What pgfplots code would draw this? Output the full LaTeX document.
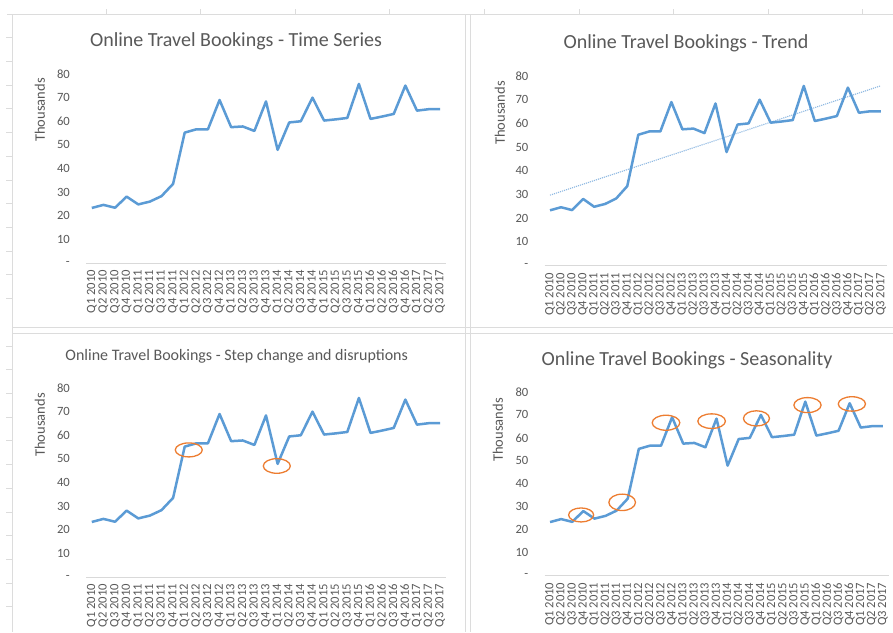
\documentclass[border=0pt]{standalone}
\usepackage{pgfplots}
\usepackage{pgfplotstable}
\pgfplotsset{compat=1.18}
\usepackage{fontspec}
\setmainfont{Carlito}
\definecolor{xblue}{HTML}{5B9BD5}
\definecolor{xtrend}{HTML}{8DB8E2}
\definecolor{xorange}{HTML}{ED7D31}
\definecolor{xgray}{HTML}{595959}
\definecolor{xline}{HTML}{D9D9D9}
\definecolor{xgrid}{HTML}{DCDCDC}

\pgfplotstableread{
idx val
0 23.3
1 24.6
2 23.4
3 28.1
4 24.8
5 26.0
6 28.3
7 33.5
8 55.2
9 56.6
10 56.6
11 69.0
12 57.5
13 57.8
14 55.9
15 68.4
16 47.9
17 59.5
18 60.0
19 70.0
20 60.3
21 60.8
22 61.4
23 75.8
24 61.0
25 62.0
26 63.1
27 75.1
28 64.5
29 65.1
30 65.1
}\bookings

\tikzset{
  ell/.style={draw=xorange, line width=1.3pt},
  bline/.style={draw=xblue, line width=2.5pt, line join=round},
}

\pgfplotsset{
  panel/.style={
    scale only axis,
    xmin=-0.5, xmax=30.5, ymin=0, ymax=80,
    axis x line*=bottom, axis y line*=left,
    y axis line style={draw=none},
    x axis line style={draw=xline, line width=0.9pt, -},
    xtick={0,...,30},
    xticklabels={Q1 2010,Q2 2010,Q3 2010,Q4 2010,Q1 2011,Q2 2011,Q3 2011,Q4 2011,Q1 2012,Q2 2012,Q3 2012,Q4 2012,Q1 2013,Q2 2013,Q3 2013,Q4 2013,Q1 2014,Q2 2014,Q3 2014,Q4 2014,Q1 2015,Q2 2015,Q3 2015,Q4 2015,Q1 2016,Q2 2016,Q3 2016,Q4 2016,Q1 2017,Q2 2017,Q3 2017},
    ytick={0,10,...,80},
    yticklabels={-\hspace{5pt},10,20,30,40,50,60,70,80},
    major tick length=0pt,
    tick style={draw=none},
    /pgf/number format/assume math mode=true,
    ticklabel style={font=\fontsize{12.6}{13}\selectfont, text=xgray},
    xticklabel style={yshift=-7pt, rotate=90, anchor=east, inner sep=0pt},
    yticklabel style={anchor=east, xshift=-16pt, inner sep=0pt},
    clip=false,
  },
}

\begin{document}
\begin{tikzpicture}
\fill[white] (0,0) rectangle (893pt,-632pt);
\useasboundingbox (0,0) rectangle (893pt,-632pt);

% sheet gridlines and chart borders
\begin{scope}[x=1pt,y=-1pt, draw=xgrid, line width=0.8pt]
  \draw (7,14) -- (893,14);
  \draw (12,14) -- (12,632);
  \foreach \t in {106,200.6,295.2,389.8,484.4,579,673.6,768.2,862.8} \draw (\t,14) -- (\t,9);
  \foreach \t in {37.7,61.4,85.1,108.8,132.5,156.2,179.9,203.6,227.3,251,274.7,298.4,346,369.7,393.4,417.1,440.8,464.5,488.2,511.9,535.6,559.3,583,606.7} \draw (12,\t) -- (6,\t);
  \draw (465,14) -- (465,632);
  \draw (470,14) -- (470,632);
  \draw (12,327) -- (893,327);
  \draw (12,333) -- (893,333);
\end{scope}

% titles and axis titles
\begin{scope}[x=1pt,y=-1pt]
  \node[text=xgray, font=\fontsize{20}{22}\selectfont] at (236,41.5) {Online Travel Bookings - Time Series};
  \node[text=xgray, font=\fontsize{20}{22}\selectfont] at (686,43) {Online Travel Bookings - Trend};
  \node[text=xgray, font=\fontsize{16}{18}\selectfont] at (236.7,356.7) {Online Travel Bookings - Step change and disruptions};
  \node[text=xgray, font=\fontsize{20}{22}\selectfont] at (687,360.5) {Online Travel Bookings - Seasonality};
  \node[text=xgray, rotate=90, font=\fontsize{14.5}{16}\selectfont] at (40,110) {Thousands};
  \node[text=xgray, rotate=90, font=\fontsize{14.5}{16}\selectfont] at (500,113) {Thousands};
  \node[text=xgray, rotate=90, font=\fontsize{14.5}{16}\selectfont] at (40,425) {Thousands};
  \node[text=xgray, rotate=90, font=\fontsize{14.5}{16}\selectfont] at (498,430) {Thousands};
\end{scope}

% Panel 1: time series
\begin{axis}[panel, at={(86pt,-263pt)}, anchor=south west, width=360pt, height=189pt]
  \addplot[bline, no markers] table[x=idx, y=val] {\bookings};
\end{axis}

% Panel 2: trend
\begin{axis}[panel, at={(544.5pt,-265.5pt)}, anchor=south west, width=342pt, height=189.5pt]
  \addplot[draw=xtrend, line width=1.1pt, densely dotted, no markers] coordinates {(0,29.7) (30,75.9)};
  \addplot[bline, no markers] table[x=idx, y=val] {\bookings};
\end{axis}

% Panel 3: step change and disruptions
\begin{axis}[panel, at={(86pt,-577pt)}, anchor=south west, width=360pt, height=189pt]
  \addplot[bline, no markers] table[x=idx, y=val] {\bookings};
  \draw[ell] (axis cs:8.35,53.8) ellipse [x radius=13.5pt, y radius=7pt];
  \draw[ell] (axis cs:15.93,47) ellipse [x radius=13.5pt, y radius=7.3pt];
\end{axis}

% Panel 4: seasonality
\begin{axis}[panel, at={(544.5pt,-575.5pt)}, anchor=south west, width=344pt, height=183.5pt]
  \addplot[bline, no markers] table[x=idx, y=val] {\bookings};
  \draw[ell] (axis cs:2.8,26.4) ellipse [x radius=12.5pt, y radius=7pt];
  \draw[ell] (axis cs:6.5,31.9) ellipse [x radius=13.3pt, y radius=8.2pt];
  \draw[ell] (axis cs:10.45,66.6) ellipse [x radius=13.8pt, y radius=7.5pt];
  \draw[ell] (axis cs:14.56,67.3) ellipse [x radius=13.8pt, y radius=7.3pt];
  \draw[ell] (axis cs:18.6,68.5) ellipse [x radius=13pt, y radius=7.6pt];
  \draw[ell] (axis cs:23.2,74.3) ellipse [x radius=13.6pt, y radius=7.5pt];
  \draw[ell] (axis cs:27.2,74.8) ellipse [x radius=13.6pt, y radius=7.2pt];
\end{axis}
\end{tikzpicture}
\end{document}
